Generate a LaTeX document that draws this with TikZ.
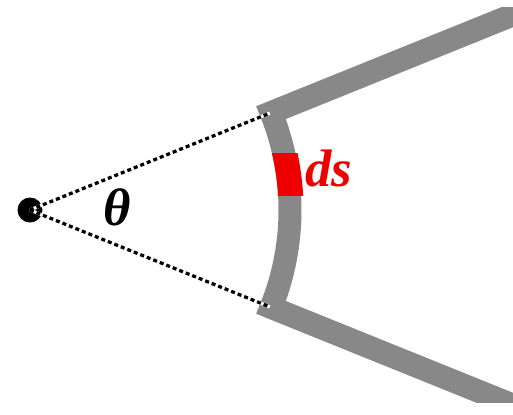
\documentclass[tikz,border=0pt]{standalone}
\usepackage{fontspec}
\setmainfont{Liberation Serif}
\usetikzlibrary{calc}
\definecolor{wallgray}{HTML}{888888}
\definecolor{segred}{HTML}{EE0000}

\begin{document}
\begin{tikzpicture}[x=0.02cm,y=0.02cm,
  wall/.style={draw=wallgray,line width=0.46cm,line join=miter},
  ray/.style={line width=0.065cm,dash pattern=on 0.08cm off 0.06cm},
  lbl/.style={font=\fontsize{30}{36}\selectfont\bfseries\itshape,anchor=base,inner sep=0pt}]
  \useasboundingbox (0,0) rectangle (513,414);
  \coordinate (O) at (30,204);
  % the bent wall
  \begin{scope}
    \clip (0,12) rectangle (513,407);
    \draw[wall] ($(O)+(22:700)$) -- ($(O)+(22:260)$)
      arc[start angle=22,end angle=-22,radius=260] -- ($(O)+(-22:700)$);
  \end{scope}
  % the piece ds
  \begin{scope}
    \clip (250,219) rectangle (330,261);
    \draw[wall,draw=segred,line width=0.5cm] ($(O)+(20:261)$) arc[start angle=20,end angle=-5,radius=261];
  \end{scope}
  \node[circle,fill=black,minimum size=0.5cm,inner sep=0pt] (apex) at (O) {};
  \coordinate (top) at ($(O)+(22:259)$);
  \coordinate (bot) at ($(O)+(-22:259)$);
  \draw[line width=0.065cm,white] (O) -- (top) (O) -- (bot);
  \draw[ray] (O) -- (top);
  \draw[ray] (O) -- (bot);
  \node[lbl] (theta) at (117,189) {θ};
  \node[lbl,text=segred] (ds) at (329,228) {ds};
\end{tikzpicture}
\end{document}
